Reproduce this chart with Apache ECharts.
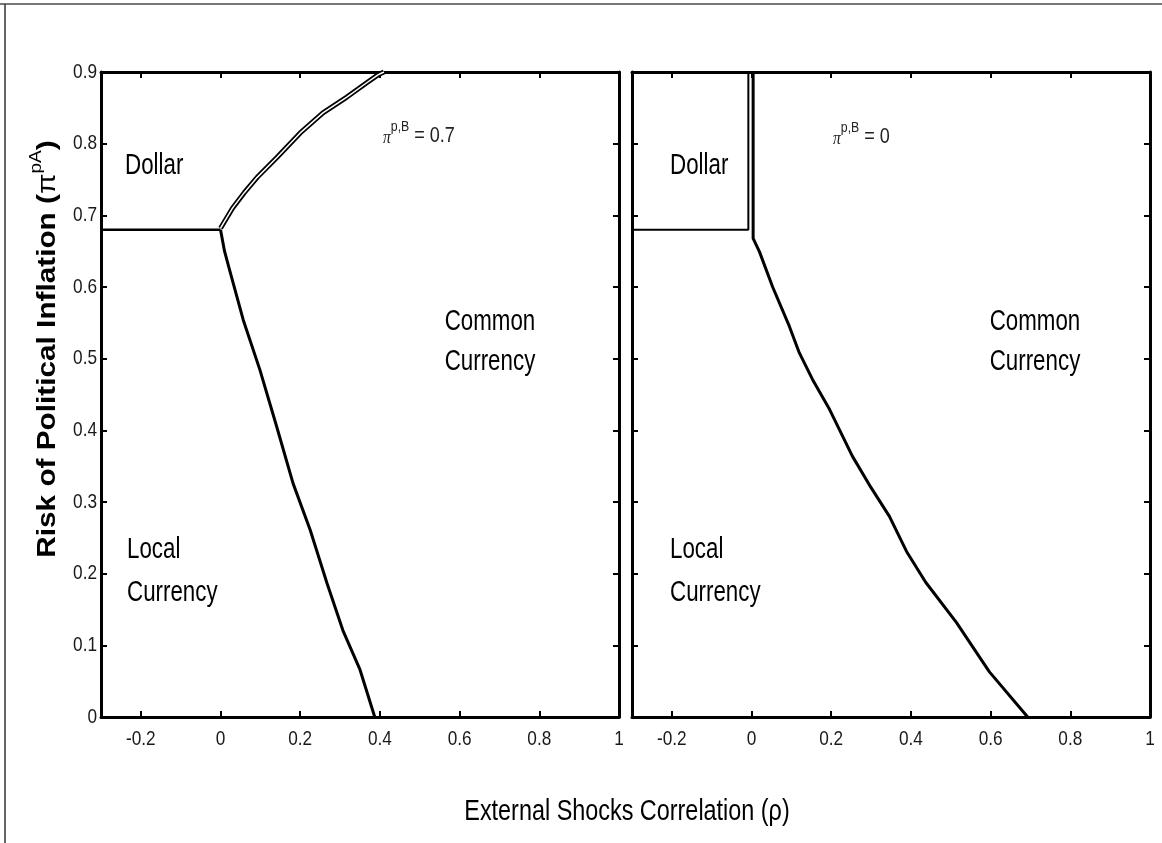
<!DOCTYPE html>
<html>
<head>
<meta charset="utf-8">
<script src="https://cdn.jsdelivr.net/npm/echarts@6/dist/echarts.min.js"></script>
<style>html,body{margin:0;padding:0;background:#fff;}#c{width:1162px;height:843px;}</style>
</head>
<body>
<div id="c"></div>
<script>
// ---- data ----
const xTickValues = [-0.2, 0, 0.2, 0.4, 0.6, 0.8, 1];
const xTickLabels = ['-0.2', '0', '0.2', '0.4', '0.6', '0.8', '1'];
const yTickValues = [0, 0.1, 0.2, 0.3, 0.4, 0.5, 0.6, 0.7, 0.8, 0.9];
const yTickLabels = ['0', '0.1', '0.2', '0.3', '0.4', '0.5', '0.6', '0.7', '0.8', '0.9'];
const xRange = [-0.3, 1];
const yRange = [0, 0.9];

// left panel (pi^{p,B} = 0.7)
const leftDollarLocal = [[-0.3, 0.68], [0, 0.68]];
const leftDollarCommon = [[0, 0.682], [0.03, 0.71], [0.06, 0.732], [0.092, 0.753], [0.142, 0.781], [0.2, 0.815], [0.257, 0.843], [0.317, 0.865], [0.367, 0.885], [0.395, 0.896], [0.41, 0.9]];
const leftLocalCommon = [[0, 0.68], [0.01, 0.65], [0.024, 0.621], [0.057, 0.554], [0.099, 0.484], [0.141, 0.405], [0.182, 0.326], [0.225, 0.261], [0.267, 0.187], [0.307, 0.121], [0.35, 0.066], [0.387, 0]];

// right panel (pi^{p,B} = 0)
const rightDollarLocal = [[-0.3, 0.68], [-0.008, 0.68], [-0.008, 0.9]];
const rightCommonBoundary = [[0.004, 0.9], [0.004, 0.668], [0.02, 0.649], [0.053, 0.6], [0.095, 0.545], [0.12, 0.508], [0.153, 0.471], [0.196, 0.429], [0.253, 0.364], [0.3, 0.32], [0.346, 0.28], [0.389, 0.231], [0.437, 0.188], [0.514, 0.132], [0.597, 0.063], [0.693, 0]];

const panelLabels = ['0.7', '0'];

// ---- chart ----
const chart = echarts.init(document.getElementById('c'));
const SANS = "'Liberation Sans', Arial, sans-serif";

function axisCommon(extra) {
  return Object.assign({
    axisLine: { onZero: false, lineStyle: { color: '#000', width: 3 } },
    axisLabel: { show: false },
    splitLine: { show: false }
  }, extra);
}
function xAxes(gi) {
  return ['bottom', 'top'].map(pos => axisCommon({
    type: 'value', gridIndex: gi, position: pos, min: xRange[0], max: xRange[1],
    axisTick: { inside: true, length: 6, lineStyle: { width: 2, color: '#000' }, customValues: xTickValues }
  }));
}
function yAxes(gi) {
  return ['left', 'right'].map(pos => axisCommon({
    type: 'value', gridIndex: gi, position: pos, min: yRange[0], max: yRange[1],
    axisTick: { inside: true, length: 6, lineStyle: { width: 2, color: '#000' }, customValues: yTickValues }
  }));
}

function line(data, xi, yi, width, color, z) {
  return { type: 'line', data: data, xAxisIndex: xi, yAxisIndex: yi, showSymbol: false, symbol: 'none',
    lineStyle: { color: color, width: width }, z: z || 3, animation: false, clip: false };
}

chart.setOption({
  backgroundColor: '#fff',
  animation: false,
  grid: [
    { left: 101, right: 543, top: 72, bottom: 126 },
    { left: 632, right: 12, top: 72, bottom: 126 }
  ],
  xAxis: [...xAxes(0), ...xAxes(1)],
  yAxis: [...yAxes(0), ...yAxes(1)],
  series: [
    line(leftDollarLocal, 0, 0, 2.5, '#000'),
    line(leftDollarCommon, 0, 0, 5, '#000', 3),
    line(leftDollarCommon, 0, 0, 1.5, '#fff', 4),
    line(leftLocalCommon, 0, 0, 3, '#000'),
    line(rightDollarLocal, 2, 2, 2, '#000'),
    line(rightCommonBoundary, 2, 2, 3, '#000')
  ]
});

function txt(text, x, y, align, size, sx, fill) {
  return { type: 'text', x: x, y: y, z: 10, scaleX: sx || 0.77,
    style: { text: text, align: align || 'left', verticalAlign: 'middle', fontFamily: SANS, fontSize: size || 29, fill: fill || '#000' } };
}
function piLabel(val, x, y) {
  return { type: 'text', x: x, y: y, z: 10, scaleX: 0.82,
    style: { text: '{pi|π}{sup|p,B}{eq| = ' + val + '}', align: 'left', verticalAlign: 'middle',
      rich: {
        pi: { fontFamily: "'Liberation Serif', serif", fontStyle: 'italic', fontSize: 19, fill: '#222', lineHeight: 28, verticalAlign: 'bottom' },
        sup: { fontFamily: SANS, fontSize: 15, fill: '#222', lineHeight: 28, verticalAlign: 'top' },
        eq: { fontFamily: SANS, fontSize: 22, fill: '#222', lineHeight: 28, verticalAlign: 'bottom' }
      } } };
}

const graphics = [
  { type: 'line', shape: { x1: 0, y1: 4, x2: 1162, y2: 4 }, style: { stroke: '#777', lineWidth: 2 } },
  { type: 'line', shape: { x1: 5, y1: 4, x2: 5, y2: 843 }, style: { stroke: '#333', lineWidth: 1.5 } },
  // left panel
  txt('Dollar', 125, 166),
  piLabel(panelLabels[0], 383, 133),
  txt('Common', 490, 322, 'center'),
  txt('Currency', 490, 362, 'center'),
  txt('Local', 127, 550),
  txt('Currency', 127, 593),
  // right panel
  txt('Dollar', 670, 166),
  piLabel(panelLabels[1], 833, 134),
  txt('Common', 1035, 322, 'center'),
  txt('Currency', 1035, 362, 'center'),
  txt('Local', 670, 550),
  txt('Currency', 670, 593),
  // axis titles
  txt('External Shocks Correlation (ρ)', 627, 812, 'center', 30, 0.78),
  { type: 'text', x: 45, y: 349, rotation: Math.PI / 2, scaleX: 1.19, z: 10,
    style: { text: '{t|Risk of Political Inflation (}{pi|π}{sup|pA}{t|)}', align: 'center', verticalAlign: 'middle',
      rich: {
        t: { fontFamily: SANS, fontWeight: 'bold', fontSize: 25, fill: '#000', lineHeight: 32, verticalAlign: 'bottom' },
        pi: { fontFamily: SANS, fontSize: 25, fill: '#000', lineHeight: 32, verticalAlign: 'bottom' },
        sup: { fontFamily: SANS, fontSize: 16, fill: '#000', lineHeight: 32, verticalAlign: 'top' }
      } } }
];

// tick labels positioned through the axes' own scales
[0, 2].forEach(xi => {
  xTickValues.forEach((v, i) => {
    const px = chart.convertToPixel({ xAxisIndex: xi }, v);
    const py = chart.convertToPixel({ yAxisIndex: xi }, yRange[0]);
    graphics.push(txt(xTickLabels[i], px, py + 22, 'center', 21, 0.82, '#1a1a1a'));
  });
});
yTickValues.forEach((v, i) => {
  const py = chart.convertToPixel({ yAxisIndex: 0 }, v);
  const px = chart.convertToPixel({ xAxisIndex: 0 }, xRange[0]);
  graphics.push(txt(yTickLabels[i], px - 4, py, 'right', 21, 0.82, '#1a1a1a'));
});

chart.setOption({ graphic: graphics });
</script>
</body>
</html>
